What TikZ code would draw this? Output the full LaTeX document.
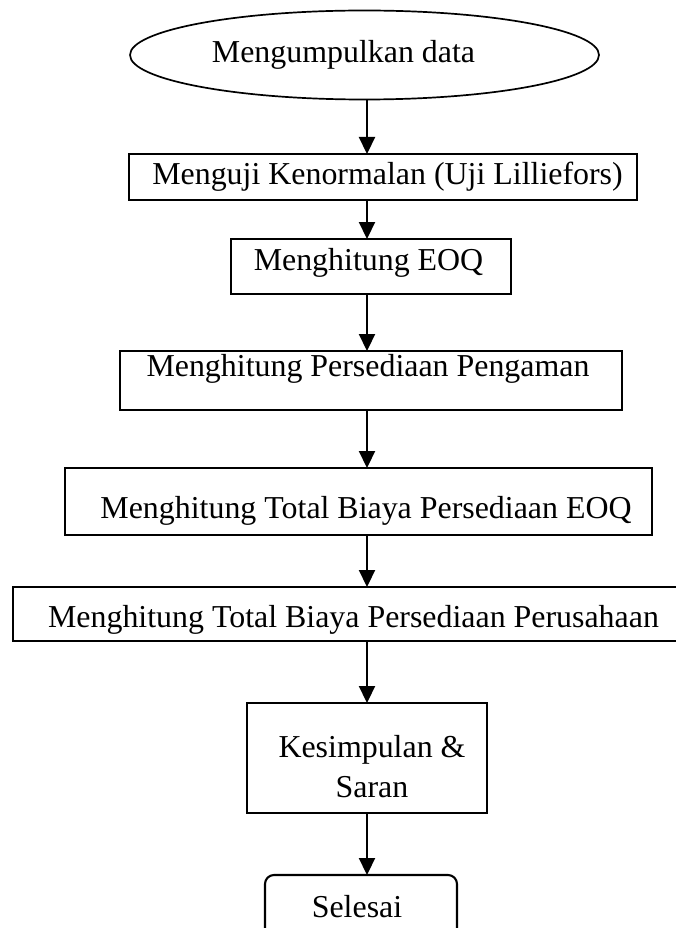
\documentclass[tikz,border=0pt]{standalone}
\usepackage{fontspec}
\setmainfont{Liberation Serif}
\usetikzlibrary{shapes.geometric,arrows.meta}
\begin{document}
\begin{tikzpicture}[x=1pt,y=-1pt,
  boxshape/.style={draw, line width=2.1pt, inner sep=0pt, outer sep=0pt},
  txt/.style={inner sep=0pt, anchor=base, font=\fontsize{31.9}{40}\selectfont},
  flow/.style={line width=2.2pt, -{Triangle[length=17pt,width=16pt]}}]
\useasboundingbox (0,0) rectangle (676,928);
\clip (0,0) rectangle (676,928);
\fill[white] (0,0) rectangle (676,928);
\coordinate (axis) at (367,0);
% shapes
\node[ellipse, draw, line width=1.7pt, inner sep=0pt, outer sep=0pt, minimum width=469pt, minimum height=89pt] (e) at (364.5,55) {};
\node[boxshape, minimum width=508pt, minimum height=46pt] (b1) at (383,177) {};
\node[boxshape, minimum width=280pt, minimum height=55pt] (b2) at (371,266.5) {};
\node[boxshape, minimum width=502pt, minimum height=59pt] (b3) at (371,380.5) {};
\node[boxshape, minimum width=587pt, minimum height=67pt] (b4) at (358.5,501.5) {};
\node[boxshape, minimum width=667pt, minimum height=54pt] (b5) at (346.5,614) {};
\node[boxshape, minimum width=240pt, minimum height=110pt] (b6) at (367,758) {};
\node[boxshape, rounded corners=9pt, minimum width=192pt, minimum height=75pt] (b7) at (361,912.5) {};
% texts
\node[txt] (t0) at (343.5,63) {Mengumpulkan data};
\node[txt] (t1) at (387.5,185) {Menguji Kenormalan (Uji Lilliefors)};
\node[txt] (t2) at (368.5,270) {Menghitung EOQ};
\node[txt] (t3) at (368,376) {Menghitung Persediaan Pengaman};
\node[txt] (t4) at (366,518) {Menghitung Total Biaya Persediaan EOQ};
\node[txt] (t5) at (353.5,627) {Menghitung Total Biaya Persediaan Perusahaan};
\node[txt] (t6a) at (372,757) {Kesimpulan \&};
\node[txt] (t6b) at (372,797) {Saran};
\node[txt] (t7) at (357,917) {Selesai};
% connectors
\draw[flow] (e.south -| axis) -- (b1.north -| axis);
\draw[flow] (b1.south -| axis) -- (b2.north -| axis);
\draw[flow] (b2.south -| axis) -- (b3.north -| axis);
\draw[flow] (b3.south -| axis) -- (b4.north -| axis);
\draw[flow] (b4.south -| axis) -- (b5.north -| axis);
\draw[flow] (b5.south -| axis) -- (b6.north -| axis);
\draw[flow] (b6.south -| axis) -- (b7.north -| axis);
\end{tikzpicture}
\end{document}
